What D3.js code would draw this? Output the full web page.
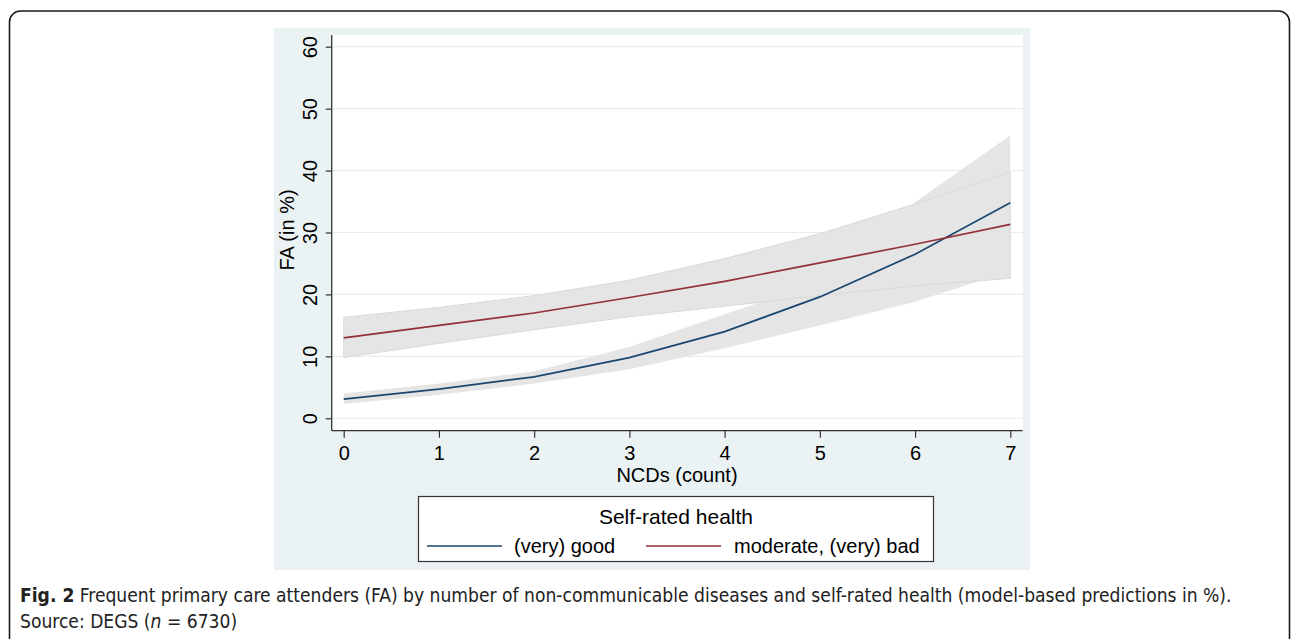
<!DOCTYPE html>
<html>
  <head>
    <meta charset="utf-8" />
    <title>FA by NCDs and self-rated health</title>
    <script src="https://d3js.org/d3.v7.js"></script>
    <style>
      body { margin: 0; background: #fff; }
      svg { display: block; }
      text { font-family: 'Liberation Sans', Arial, sans-serif; fill: #000; }
      .caption { font-family: 'Liberation Sans Narrow', 'DejaVu Sans Condensed', sans-serif; fill: #222; }
    </style>
  </head>
  <body>
    <svg width="1293" height="639"></svg>

    <script>
      // number of NCDs (x values)
      const ncds = [0, 1, 2, 3, 4, 5, 6, 7];

      // (very) good self-rated health: prediction and 95% band
      const goodFit = [3.1, 4.7, 6.7, 9.8, 14.0, 19.6, 26.5, 34.8];
      const goodLow = [2.3, 3.8, 5.6, 7.9, 11.3, 15.0, 18.8, 23.8];
      const goodHigh = [4.0, 5.6, 7.6, 11.5, 16.8, 22.0, 34.9, 45.7];

      // moderate, (very) bad self-rated health
      const badFit = [13.0, 15.0, 17.0, 19.5, 22.1, 25.1, 28.1, 31.3];
      const badLow = [9.8, 12.1, 14.3, 16.4, 18.1, 19.8, 21.4, 22.6];
      const badHigh = [16.3, 17.9, 19.8, 22.3, 25.8, 29.8, 34.6, 39.8];

      const yTicks = [0, 10, 20, 30, 40, 50, 60];
      const legendTitle = 'Self-rated health';
      const legendLabels = ['(very) good', 'moderate, (very) bad'];
      const colors = ['#1a476f', '#933038'];

      const svg = d3.select('svg');

      // outer frame of the figure
      svg.append('rect')
        .attr('x', 9.5).attr('y', 11)
        .attr('width', 1280).attr('height', 700)
        .attr('rx', 11)
        .attr('fill', 'none')
        .attr('stroke', '#1a1a1a')
        .attr('stroke-width', 1.6);

      // graph region
      svg.append('rect')
        .attr('x', 274).attr('y', 28)
        .attr('width', 756).attr('height', 542)
        .attr('fill', '#eaf2f3');

      const plot = { left: 331.7, right: 1022.7, top: 35, bottom: 430.7 };

      svg.append('rect')
        .attr('x', plot.left).attr('y', plot.top)
        .attr('width', plot.right - plot.left)
        .attr('height', plot.bottom - plot.top)
        .attr('fill', '#fff');

      const x = d3.scaleLinear().domain([0, 7]).range([343.7, 1010.3]);
      const y = d3.scaleLinear().domain([0, 60]).range([418.3, 46.7]);

      // grid lines
      svg.append('g')
        .selectAll('line')
        .data(yTicks)
        .join('line')
        .attr('x1', plot.left).attr('x2', plot.right)
        .attr('y1', (d) => y(d)).attr('y2', (d) => y(d))
        .attr('stroke', '#e6eff0')
        .attr('stroke-width', 1.2);

      const rows = (fit, lo, hi) =>
        ncds.map((n, i) => ({ n: n, fit: fit[i], lo: lo[i], hi: hi[i] }));
      const groups = [rows(goodFit, goodLow, goodHigh), rows(badFit, badLow, badHigh)];

      const area = d3.area()
        .x((d) => x(d.n))
        .y0((d) => y(d.lo))
        .y1((d) => y(d.hi));

      const line = d3.line()
        .x((d) => x(d.n))
        .y((d) => y(d.fit));

      // confidence bands, second one drawn on top with a faint edge
      svg.append('g')
        .selectAll('path')
        .data(groups)
        .join('path')
        .attr('d', area)
        .attr('fill', '#e5e5e5')
        .attr('stroke', (d, i) => (i === 1 ? '#d9d9d9' : 'none'))
        .attr('stroke-width', 1);

      svg.append('g')
        .selectAll('path')
        .data(groups)
        .join('path')
        .attr('d', line)
        .attr('fill', 'none')
        .attr('stroke', (d, i) => colors[i])
        .attr('stroke-width', 1.7);

      // axes
      const xAxisG = svg.append('g')
        .attr('transform', `translate(0,${plot.bottom})`)
        .call(d3.axisBottom(x).ticks(7).tickSize(7).tickSizeOuter(0));
      xAxisG.select('.domain').remove();
      xAxisG.selectAll('.tick line').attr('stroke', '#333').attr('stroke-width', 1.2);
      xAxisG.selectAll('.tick text')
        .attr('y', 29).attr('dy', 0)
        .style('font-size', '20px')
        .style('font-family', "'Liberation Sans', Arial, sans-serif")
        .attr('fill', '#000');

      const yAxisG = svg.append('g')
        .attr('transform', `translate(${plot.left},0)`)
        .call(d3.axisLeft(y).tickValues(yTicks).tickSize(6).tickSizeOuter(0));
      yAxisG.select('.domain').remove();
      yAxisG.selectAll('.tick line').attr('stroke', '#333').attr('stroke-width', 1.2);
      yAxisG.selectAll('.tick text')
        .attr('x', 0).attr('dy', 0).attr('y', -15)
        .attr('transform', 'rotate(-90)')
        .attr('text-anchor', 'middle')
        .style('font-size', '20px')
        .style('font-family', "'Liberation Sans', Arial, sans-serif")
        .attr('fill', '#000');

      svg.append('line')
        .attr('x1', plot.left).attr('x2', plot.left)
        .attr('y1', plot.top).attr('y2', plot.bottom)
        .attr('stroke', '#333').attr('stroke-width', 1.3);
      svg.append('line')
        .attr('x1', plot.left).attr('x2', plot.right)
        .attr('y1', plot.bottom).attr('y2', plot.bottom)
        .attr('stroke', '#333').attr('stroke-width', 1.3);

      svg.append('text')
        .attr('x', 677).attr('y', 482)
        .attr('text-anchor', 'middle')
        .style('font-size', '20px')
        .text('NCDs (count)');

      svg.append('text')
        .attr('transform', 'translate(294,230) rotate(-90)')
        .attr('text-anchor', 'middle')
        .style('font-size', '20px')
        .text('FA (in %)');

      // legend
      const legend = svg.append('g');
      legend.append('rect')
        .attr('x', 418.5).attr('y', 496.5)
        .attr('width', 515).attr('height', 65)
        .attr('fill', '#fff')
        .attr('stroke', '#333')
        .attr('stroke-width', 1.2);
      legend.append('text')
        .attr('x', 676).attr('y', 524)
        .attr('text-anchor', 'middle')
        .style('font-size', '21px')
        .text(legendTitle);

      const legendX = [[427, 502, 514], [646, 721, 734]];
      legendLabels.forEach((lab, i) => {
        legend.append('line')
          .attr('x1', legendX[i][0]).attr('x2', legendX[i][1])
          .attr('y1', 546).attr('y2', 546)
          .attr('stroke', colors[i])
          .attr('stroke-width', 1.6);
        legend.append('text')
          .attr('x', legendX[i][2]).attr('y', 553)
          .style('font-size', '20px')
          .text(lab);
      });

      // caption
      const cap1 = svg.append('text')
        .attr('class', 'caption')
        .attr('x', 20).attr('y', 602)
        .style('font-size', '17px');
      cap1.append('tspan').style('font-weight', 'bold').text('Fig. 2');
      cap1.append('tspan').text(' Frequent primary care attenders (FA) by number of non-communicable diseases and self-rated health (model-based predictions in %).');

      const len = cap1.node().getComputedTextLength();
      const fs = 17 * 1212 / len;
      cap1.style('font-size', fs + 'px');

      const cap2 = svg.append('text')
        .attr('class', 'caption')
        .attr('x', 20).attr('y', 628)
        .style('font-size', fs + 'px');
      cap2.append('tspan').text('Source: DEGS (');
      cap2.append('tspan').style('font-style', 'italic').text('n');
      cap2.append('tspan').text(' = 6730)');
    </script>
  </body>
</html>
